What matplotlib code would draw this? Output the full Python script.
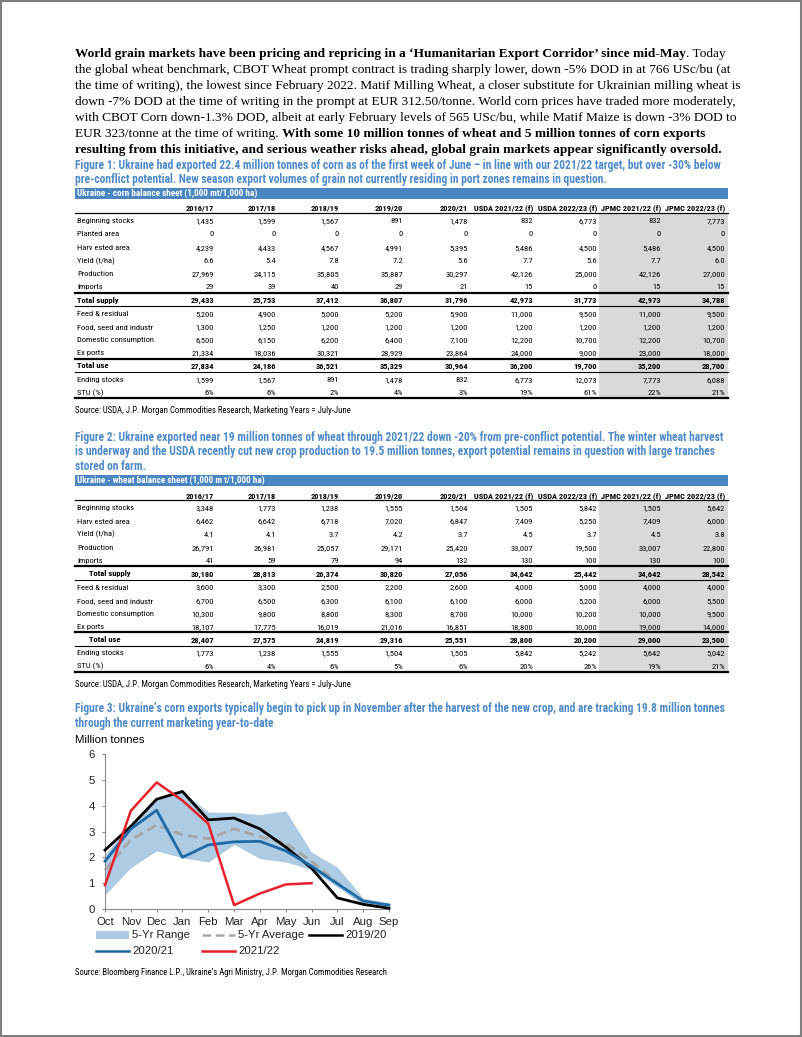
import os
import matplotlib
matplotlib.use('Agg')
import matplotlib.pyplot as plt
import numpy as np
from matplotlib import font_manager
from matplotlib.font_manager import FontProperties
from matplotlib.patches import Rectangle
from matplotlib.lines import Line2D

SANS = 'Liberation Sans'
SERIF = 'Liberation Serif'
plt.rcParams['font.family'] = [SANS, 'DejaVu Sans']

# Colours
CAP_BLUE = '#4f8bc8'
BAR_BLUE = '#4a86c2'
SHADE = '#d9d9d9'
BAND = '#aecbe4'

## Text
para = [
    [("World grain markets have been pricing and repricing in a \u2018Humanitarian Export Corridor\u2019 since mid-May", 'bold'),
     (". Today", 'normal')],
    [("the global wheat benchmark, CBOT Wheat prompt contract is trading sharply lower, down -5% DOD in at 766 USc/bu (at", 'normal')],
    [("the time of writing), the lowest since February 2022. Matif Milling Wheat, a closer substitute for Ukrainian milling wheat is", 'normal')],
    [("down -7% DOD at the time of writing in the prompt at EUR 312.50/tonne. World corn prices have traded more moderately,", 'normal')],
    [("with CBOT Corn down-1.3% DOD, albeit at early February levels of 565 USc/bu, while Matif Maize is down -3% DOD to", 'normal')],
    [("EUR 323/tonne at the time of writing.", 'normal'),
     (" With some 10 million tonnes of wheat and 5 million tonnes of corn exports", 'bold')],
    [("resulting from this initiative, and serious weather risks ahead, global grain markets appear significantly oversold.", 'bold')],
]

fig1_caption = ["Figure 1: Ukraine had exported 22.4 million tonnes of corn as of the first week of June \u2013 in line with our 2021/22 target, but over -30% below",
                "pre-conflict potential. New season export volumes of grain not currently residing in port zones remains in question."]
fig2_caption = ["Figure 2: Ukraine exported near 19 million tonnes of wheat through 2021/22 down -20% from pre-conflict potential. The winter wheat harvest",
                "is underway and the USDA recently cut new crop production to 19.5 million tonnes, export potential remains in question with large tranches",
                "stored on farm."]
fig3_caption = ["Figure 3: Ukraine\u2019s corn exports typically begin to pick up in November after the harvest of the new crop, and are tracking 19.8 million tonnes",
                "through the current marketing year-to-date"]
table_source = "Source: USDA, J.P. Morgan Commodities Research, Marketing Years = July-June"
chart_source = "Source: Bloomberg Finance L.P., Ukraine\u2019s Agri Ministry, J.P. Morgan Commodities Research"

## Table data
col_heads = ['2016/17', '2017/18', '2018/19', '2019/20', '2020/21',
             'USDA 2021/22 (f)', 'USDA 2022/23 (f)', 'JPMC 2021/22 (f)', 'JPMC 2022/23 (f)']

corn_labels = ['Beginning stocks', 'Planted area', 'Harv ested area', 'Yield (t/ha)', 'Production', 'Imports',
               'Total supply', 'Feed & residual', 'Food, seed and industr', 'Domestic consumption', 'Ex ports',
               'Total use', 'Ending stocks', 'STU (%)']
corn_rows = [
    ['1,435', '1,599', '1,567', '891', '1,478', '832', '6,773', '832', '7,773'],
    ['0', '0', '0', '0', '0', '0', '0', '0', '0'],
    ['4,239', '4,433', '4,567', '4,991', '5,395', '5,486', '4,500', '5,486', '4,500'],
    ['6.6', '5.4', '7.8', '7.2', '5.6', '7.7', '5.6', '7.7', '6.0'],
    ['27,969', '24,115', '35,805', '35,887', '30,297', '42,126', '25,000', '42,126', '27,000'],
    ['29', '39', '40', '29', '21', '15', '0', '15', '15'],
    ['29,433', '25,753', '37,412', '36,807', '31,796', '42,973', '31,773', '42,973', '34,788'],
    ['5,200', '4,900', '5,000', '5,200', '5,900', '11,000', '9,500', '11,000', '9,500'],
    ['1,300', '1,250', '1,200', '1,200', '1,200', '1,200', '1,200', '1,200', '1,200'],
    ['6,500', '6,150', '6,200', '6,400', '7,100', '12,200', '10,700', '12,200', '10,700'],
    ['21,334', '18,036', '30,321', '28,929', '23,864', '24,000', '9,000', '23,000', '18,000'],
    ['27,834', '24,186', '36,521', '35,329', '30,964', '36,200', '19,700', '35,200', '28,700'],
    ['1,599', '1,567', '891', '1,478', '832', '6,773', '12,073', '7,773', '6,088'],
    ['6%', '6%', '2%', '4%', '3%', '19%', '61%', '22%', '21%'],
]

wheat_labels = ['Beginning stocks', 'Harv ested area', 'Yield (t/ha)', 'Production', 'Imports',
                'Total supply', 'Feed & residual', 'Food, seed and industr', 'Domestic consumption', 'Ex ports',
                'Total use', 'Ending stocks', 'STU (%)']
wheat_rows = [
    ['3,348', '1,773', '1,238', '1,555', '1,504', '1,505', '5,842', '1,505', '5,642'],
    ['6,462', '6,642', '6,718', '7,020', '6,847', '7,409', '5,250', '7,409', '6,000'],
    ['4.1', '4.1', '3.7', '4.2', '3.7', '4.5', '3.7', '4.5', '3.8'],
    ['26,791', '26,981', '25,057', '29,171', '25,420', '33,007', '19,500', '33,007', '22,800'],
    ['41', '59', '79', '94', '132', '130', '100', '130', '100'],
    ['30,180', '28,813', '26,374', '30,820', '27,056', '34,642', '25,442', '34,642', '28,542'],
    ['3,600', '3,300', '2,500', '2,200', '2,600', '4,000', '5,000', '4,000', '4,000'],
    ['6,700', '6,500', '6,300', '6,100', '6,100', '6,000', '5,200', '6,000', '5,500'],
    ['10,300', '9,800', '8,800', '8,300', '8,700', '10,000', '10,200', '10,000', '9,500'],
    ['18,107', '17,775', '16,019', '21,016', '16,851', '18,800', '10,000', '19,000', '14,000'],
    ['28,407', '27,575', '24,819', '29,316', '25,551', '28,800', '20,200', '29,000', '23,500'],
    ['1,773', '1,238', '1,555', '1,504', '1,505', '5,842', '5,242', '5,642', '5,042'],
    ['6%', '4%', '6%', '5%', '6%', '20%', '26%', '19%', '21%'],
]

## Chart data (million tonnes)
months = ['Oct', 'Nov', 'Dec', 'Jan', 'Feb', 'Mar', 'Apr', 'May', 'Jun', 'Jul', 'Aug', 'Sep']
range_low = [0.55, 1.6, 2.25, 1.98, 1.82, 2.5, 1.95, 1.82, 1.52, 0.85, 0.15, 0.05]
range_high = [2.1, 3.3, 4.25, 4.55, 3.75, 3.75, 3.65, 3.8, 2.2, 1.62, 0.42, 0.24]
five_avg = [1.5, 2.68, 3.25, 2.87, 2.72, 3.1, 2.8, 2.55, 1.85, 1.0, 0.3, 0.15]
y2019 = [2.28, 3.2, 4.25, 4.55, 3.45, 3.52, 3.1, 2.4, 1.58, 0.43, 0.18, 0.03]
y2020 = [1.85, 3.1, 3.82, 2.0, 2.48, 2.6, 2.62, 2.25, 1.66, 0.98, 0.31, 0.15]
y2021 = [0.92, 3.8, 4.9, 4.2, 3.3, 0.15, 0.6, 0.95, 1.0]


## Narrow font lookup (Arial Narrow look-alike), fall back to Liberation Sans
WMAP = {'thin': 100, 'ultralight': 200, 'light': 300, 'normal': 400, 'regular': 400, 'book': 400,
        'roman': 400, 'medium': 500, 'semibold': 600, 'demibold': 600, 'demi': 600,
        'bold': 700, 'heavy': 800, 'extra bold': 800, 'black': 900}


def wnum(w):
    try:
        return int(w)
    except (TypeError, ValueError):
        return WMAP.get(str(w).lower(), 400)


def pref(name):
    n = name.lower()
    for i, key in enumerate(['liberation', 'arial', 'roboto', 'open sans', 'noto sans', 'dejavu sans']):
        if key in n:
            return i
    return 9


groups = {}
for f in font_manager.fontManager.ttflist:
    n = f.name.lower()
    base = os.path.basename(f.fname).lower()
    if f.style != 'normal' or 'mono' in n or ('serif' in n and 'sans' not in n):
        continue
    if 'narrow' in n or 'condensed' in n or 'condensed' in str(f.stretch).lower() \
            or 'narrow' in base or 'condensed' in base:
        if 'semicondensed' in base or 'semi' in str(f.stretch).lower() or 'extracondensed' in base:
            continue
        groups.setdefault(f.name, []).append(f)

narrow_reg = narrow_bold = None
for name in sorted(groups, key=pref):
    fl = groups[name]
    regs = [f for f in fl if wnum(f.weight) in (400, 500)]
    bolds = [f for f in fl if wnum(f.weight) in (600, 700)]
    if regs and bolds:
        narrow_reg = FontProperties(fname=min(regs, key=lambda f: abs(wnum(f.weight) - 400)).fname)
        narrow_bold = FontProperties(fname=min(bolds, key=lambda f: abs(wnum(f.weight) - 700)).fname)
        break
if narrow_reg is None:
    narrow_reg = FontProperties(family=SANS, weight='normal')
    narrow_bold = FontProperties(family=SANS, weight='bold')


## Page
W, H = 802, 1037
fig = plt.figure(figsize=(W / 100, H / 100), dpi=100)
page = fig.add_axes([0, 0, 1, 1])
page.set_xlim(0, W)
page.set_ylim(H, 0)
page.axis('off')
renderer = fig.canvas.get_renderer()


def fp(bold, size):
    p = (narrow_bold if bold else narrow_reg).copy()
    p.set_size(size)
    return p


def width_of(s, prop):
    t = page.text(0, 0, s, fontproperties=prop)
    w = t.get_window_extent(renderer).width
    t.remove()
    return w


def fit(s, bold, target):
    return 10 * target / width_of(s, fp(bold, 10))


# sizes fitted to the widths measured on the reference
cap_size = fit(fig1_caption[0], True, 650)
tbl_size = min(fit('Beginning stocks', False, 57), 7.6)
head_size = min(fit('USDA 2021/22 (f)', True, 59), tbl_size)
bar_size = min(fit('Ukraine - corn balance sheet (1,000 mt/1,000 ha)', True, 180), 6.6)
src_size = fit(table_source, False, 274)
src2_size = fit(chart_source, False, 312)

ser = FontProperties(family=SERIF, size=10)
para_size = 10 * 662 / width_of(para[2][0][0], ser)

# page border
page.add_patch(Rectangle((0.75, 0.75), W - 1.5, H - 1.5, fill=False, ec='#7f7f7f', lw=1.5))

LEFT = 75


def rich_line(x, y, parts, size):
    for txt, w in parts:
        t = page.text(x, y, txt, fontsize=size, fontweight=w, family=SERIF, va='baseline', color='black')
        x += t.get_window_extent(renderer).width


for i, parts in enumerate(para):
    rich_line(LEFT, 56.5 + 16 * i, parts, para_size)


def caption(lines, y0, dy=14.5):
    for i, s in enumerate(lines):
        page.text(LEFT, y0 + dy * i, s, fontproperties=fp(True, cap_size), color=CAP_BLUE, va='baseline')


col_x = [214, 276, 339, 403, 468, 533, 597, 661, 725]
TBL_L, TBL_R = 75, 728
SHADE_L = 599


def draw_table(title, labels, rows, y_bar, y_head, y0, dy, totals, indent):
    # title bar
    page.add_patch(Rectangle((TBL_L, y_bar - 5.5), TBL_R - TBL_L, 11, color=BAR_BLUE, lw=0))
    page.text(TBL_L + 2, y_bar + 3, title, fontproperties=fp(True, bar_size), color='white', va='baseline')
    # shaded JPMC columns
    top = y0 - 0.5 * dy
    bot = y0 + (len(rows) - 0.5) * dy
    page.add_patch(Rectangle((SHADE_L, top), TBL_R - SHADE_L, bot - top, color=SHADE, lw=0, zorder=0))
    # column heads
    for cx, h in zip(col_x, col_heads):
        page.text(cx, y_head + 3.2, h, fontproperties=fp(True, head_size), ha='right', va='baseline')
    page.plot([TBL_L, TBL_R], [top, top], color='black', lw=0.9)
    # rows
    for i, (lab, vals) in enumerate(zip(labels, rows)):
        y = y0 + i * dy
        bold = i in totals
        lx = TBL_L + 2 + (12 if (bold and indent) else 0)
        page.text(lx, y + 3.3, lab, fontproperties=fp(bold, tbl_size), va='baseline')
        for cx, v in zip(col_x, vals):
            page.text(cx, y + 3.3, v, fontproperties=fp(bold, tbl_size), ha='right', va='baseline')
    for i in totals:
        ya = y0 + (i - 0.5) * dy
        yb = y0 + (i + 0.5) * dy
        page.plot([TBL_L, TBL_R], [ya, ya], color='black', lw=1.6)
        page.plot([TBL_L, TBL_R], [yb, yb], color='black', lw=0.8)
    page.plot([TBL_L, TBL_R], [bot, bot], color='black', lw=1.6)


# Figure 1 - corn
caption(fig1_caption, 169)
draw_table('Ukraine - corn balance sheet (1,000 mt/1,000 ha)', corn_labels, corn_rows,
           193, 207.5, 220, 13.2, [6, 11], False)
page.text(LEFT, 413, table_source, fontproperties=fp(False, src_size), va='baseline')

# Figure 2 - wheat
caption(fig2_caption, 441)
draw_table('Ukraine - wheat balance sheet (1,000 m t/1,000 ha)', wheat_labels, wheat_rows,
           480, 495, 507, 13.2, [5, 10], True)
page.text(LEFT, 687, table_source, fontproperties=fp(False, src_size), va='baseline')

# Figure 3 - chart
caption(fig3_caption, 712)
page.text(LEFT, 743, 'Million tonnes', fontsize=8.2, family=SANS, va='baseline')

ax = fig.add_axes([105 / W, 1 - 909 / H, 284 / W, 155 / H])
x = np.arange(len(months))
ax.fill_between(x, range_low, range_high, color=BAND, lw=0, zorder=1)
ax.plot(x, five_avg, color='#a6a6a6', lw=2, dashes=(3.5, 1.8), zorder=2, clip_on=False)
ax.plot(x, y2019, color='black', lw=2, zorder=3, clip_on=False)
ax.plot(x, y2020, color='#1f6aa5', lw=2, zorder=4, clip_on=False)
ax.plot(x[:len(y2021)], y2021, color='#e8202a', lw=1.8, zorder=5, clip_on=False)
ax.set_xlim(0, 11)
ax.set_ylim(0, 6)
ax.set_xticks(x)
ax.set_xticklabels(months)
ax.set_yticks(range(7))
ax.patch.set_alpha(0)
for s in ['top', 'right']:
    ax.spines[s].set_visible(False)
for s in ['left', 'bottom']:
    ax.spines[s].set_color('#8c8c8c')
    ax.spines[s].set_linewidth(0.8)
ax.tick_params(axis='both', colors='#8c8c8c', labelcolor='#222222', labelsize=8.2, length=2.5, width=0.8)
ax.tick_params(axis='y', pad=5)
ax.tick_params(axis='x', pad=3)

# legend (drawn by hand to keep Excel-like spacing)
leg = [
    (96, 935, 'patch', '5-Yr Range'),
    (202, 935, 'dash', '5-Yr Average'),
    (309, 935, 'black', '2019/20'),
    (96, 951, 'blue', '2020/21'),
    (202, 951, 'red', '2021/22'),
]
for lx, ly, kind, lab in leg:
    if kind == 'patch':
        page.add_patch(Rectangle((lx, ly - 4), 33, 8, color=BAND, lw=0))
    elif kind == 'dash':
        page.add_line(Line2D([lx, lx + 33], [ly, ly], color='#a6a6a6', lw=1.8, dashes=(3.5, 1.8)))
    else:
        c = {'black': 'black', 'blue': '#1f6aa5', 'red': '#e8202a'}[kind]
        page.add_line(Line2D([lx, lx + 33], [ly, ly], color=c, lw=1.8))
    page.text(lx + 36, ly, lab, fontsize=8.2, family=SANS, va='center', color='#222222')

page.text(LEFT, 975, chart_source, fontproperties=fp(False, src2_size), va='baseline')

fig.savefig('out.png', dpi=100, facecolor='white')
